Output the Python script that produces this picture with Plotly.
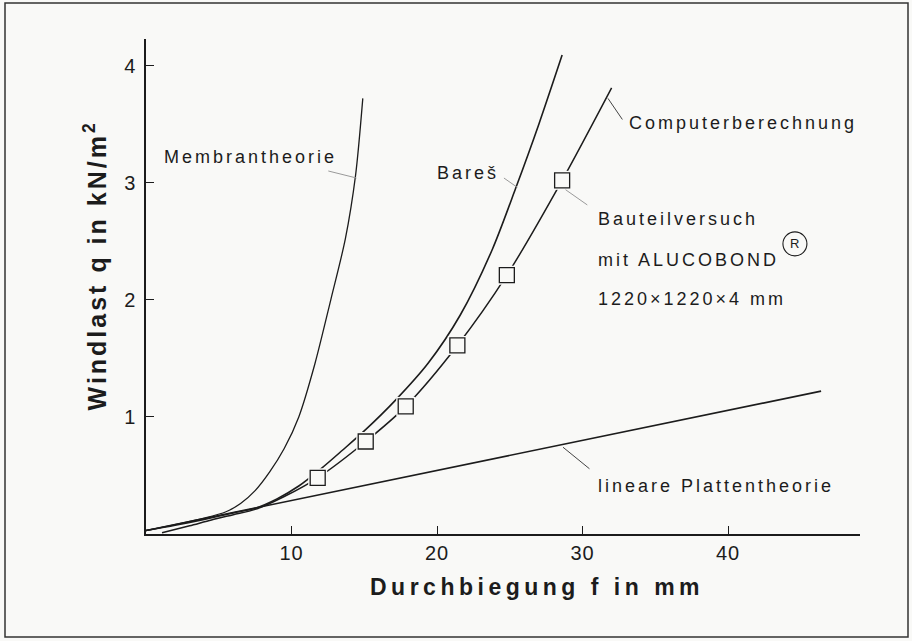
import plotly.graph_objects as go

# Durchbiegung f [mm] and Windlast q [kN/m2]
linear_f = [0.0, 46.4]
linear_q = [0.03, 1.22]

membran_f = [0.0, 2.0, 4.0, 5.5, 6.5, 7.5, 8.5, 9.5, 10.5, 11.6, 12.7, 13.7, 14.4, 14.9]
membran_q = [0.03, 0.08, 0.135, 0.19, 0.26, 0.37, 0.53, 0.73, 1.0, 1.45, 2.0, 2.52, 3.06, 3.72]

bares_f = [0.0, 2.0, 4.0, 6.0, 7.5, 9.0, 10.5, 12.1, 13.5, 15.0, 17.2, 19.4, 21.6, 23.8, 25.4, 27.0, 28.6]
bares_q = [0.03, 0.075, 0.125, 0.18, 0.22, 0.30, 0.41, 0.565, 0.715, 0.88, 1.15, 1.46, 1.87, 2.43, 2.95, 3.50, 4.09]

computer_f = [1.1, 3.0, 4.5, 6.0, 7.5, 9.5, 11.8, 15.1, 17.85, 21.4, 24.8, 28.6, 32.0]
computer_q = [0.01, 0.07, 0.12, 0.165, 0.21, 0.32, 0.48, 0.79, 1.09, 1.61, 2.21, 3.02, 3.81]

versuch_f = [11.8, 15.1, 17.85, 21.4, 24.8, 28.6]
versuch_q = [0.48, 0.79, 1.09, 1.61, 2.21, 3.02]

x_ticks = [10, 20, 30, 40]
y_ticks = [1, 2, 3, 4]

BG = "#f9f9f7"
INK = "#1c1c1c"
FONT = "Liberation Sans, Arial, sans-serif"

fig = go.Figure()

fig.add_trace(go.Scatter(x=linear_f, y=linear_q, mode="lines",
                         line=dict(color=INK, width=1.6)))
fig.add_trace(go.Scatter(x=membran_f, y=membran_q, mode="lines",
                         line=dict(color=INK, width=1.3, shape="spline", smoothing=0.8)))
fig.add_trace(go.Scatter(x=computer_f, y=computer_q, mode="lines",
                         line=dict(color=INK, width=1.5, shape="spline", smoothing=0.8)))
fig.add_trace(go.Scatter(x=bares_f, y=bares_q, mode="lines",
                         line=dict(color=INK, width=1.6, shape="spline", smoothing=0.8)))
# white halo so the lines stop short of the squares
fig.add_trace(go.Scatter(x=versuch_f, y=versuch_q, mode="markers",
                         marker=dict(symbol="square", size=19, color=BG, line=dict(width=0))))
fig.add_trace(go.Scatter(x=versuch_f, y=versuch_q, mode="markers",
                         marker=dict(symbol="square", size=15, color=BG,
                                     line=dict(color=INK, width=1.3))))

W, H = 912, 641
L, R, T, B = 146, 52, 39, 107
pw, ph = W - L - R, H - T - B


def px(x):
    return (x - L) / pw


def py(y):
    return (H - B - y) / ph


label_font = dict(family=FONT, size=18, color=INK)
annotations = [
    dict(x=1.1, y=3.22, text="Membrantheorie"),
    dict(x=19.86, y=3.08, text="Bareš"),
    dict(x=33.08, y=3.51, text="Computerberechnung"),
    dict(x=30.9, y=2.686, text="Bauteilversuch"),
    dict(x=30.9, y=2.344, text="mit ALUCOBOND"),
    dict(x=30.9, y=2.003, text="1220×1220×4 mm"),
    dict(x=30.9, y=0.414, text="lineare Plattentheorie"),
]
for a in annotations:
    a.update(xref="x", yref="y", xanchor="left", yanchor="middle", align="left",
             showarrow=False, font=label_font)

annotations.append(dict(x=44.6, y=2.478, xref="x", yref="y", text="R", showarrow=False,
                        xanchor="center", yanchor="middle",
                        font=dict(family=FONT, size=13, color=INK)))
annotations.append(dict(x=px(537), y=py(587), xref="paper", yref="paper",
                        xanchor="center", yanchor="middle",
                        text="<b>Durchbiegung f in mm</b>", showarrow=False,
                        font=dict(family=FONT, size=23, color=INK)))
annotations.append(dict(x=px(95), y=py(266), xref="paper", yref="paper", textangle=-90,
                        xanchor="center", yanchor="middle",
                        text="<b>Windlast q in kN/m<sup>2</sup></b>", showarrow=False,
                        font=dict(family=FONT, size=25, color=INK)))

shapes = [
    # leader lines from the labels to the curves
    dict(type="line", xref="x", yref="y", x0=12.53, y0=3.10, x1=14.47, y1=3.04,
         line=dict(color="#9a9a9a", width=1)),
    dict(type="line", xref="x", yref="y", x0=24.6, y0=3.04, x1=25.52, y1=2.96,
         line=dict(color="#9a9a9a", width=1)),
    dict(type="line", xref="x", yref="y", x0=31.75, y0=3.72, x1=32.74, y1=3.54,
         line=dict(color="#444", width=1)),
    dict(type="line", xref="x", yref="y", x0=28.84, y0=2.94, x1=30.33, y1=2.81,
         line=dict(color="#9a9a9a", width=1)),
    dict(type="line", xref="x", yref="y", x0=28.66, y0=0.741, x1=30.48, y1=0.557,
         line=dict(color="#444", width=1)),
    # circled R
    dict(type="circle", xref="x", yref="y", xsizemode="pixel", ysizemode="pixel",
         xanchor=44.6, yanchor=2.478, x0=-12, x1=12, y0=-12, y1=12,
         line=dict(color=INK, width=1.1)),
    # frame round the picture
    dict(type="rect", xref="paper", yref="paper", x0=px(5), x1=px(908), y0=py(637), y1=py(3),
         line=dict(color="#333", width=1.5)),
]

fig.update_layout(
    width=W, height=H,
    margin=dict(l=L, r=R, t=T, b=B),
    paper_bgcolor=BG, plot_bgcolor=BG,
    showlegend=False, hovermode=False,
    annotations=annotations, shapes=shapes,
    font=dict(family=FONT, color=INK),
)
fig.update_xaxes(range=[0, pw / 14.55], tickvals=x_ticks, ticks="inside", ticklen=8,
                 tickwidth=1.2, tickcolor=INK, showline=True, linecolor=INK, linewidth=1.5,
                 showgrid=False, zeroline=False, tickfont=dict(family=FONT, size=20, color=INK))
fig.update_yaxes(range=[0, ph / 117.1], tickvals=y_ticks, ticks="inside", ticklen=8,
                 tickwidth=1.2, tickcolor=INK, showline=True, linecolor=INK, linewidth=1.5,
                 showgrid=False, zeroline=False, ticklabelstandoff=4,
                 tickfont=dict(family=FONT, size=20, color=INK))

# the scan uses widely tracked type; plotly has no letter-spacing option.
# also drop the browser's default body margin so the figure sits at 0,0
spacing_js = """
document.body.style.margin = '0';
var gd = document.getElementById('{plot_id}');
var track = {'18px': '3px', '23px': '4.5px', '25px': '3px', '20px': '1px'};
gd.querySelectorAll('text').forEach(function (t) {
    var s = track[t.style.fontSize];
    if (s) { t.style.letterSpacing = s; }
});
"""

fig.write_html("out.html", post_script=spacing_js, config={"displayModeBar": False})
